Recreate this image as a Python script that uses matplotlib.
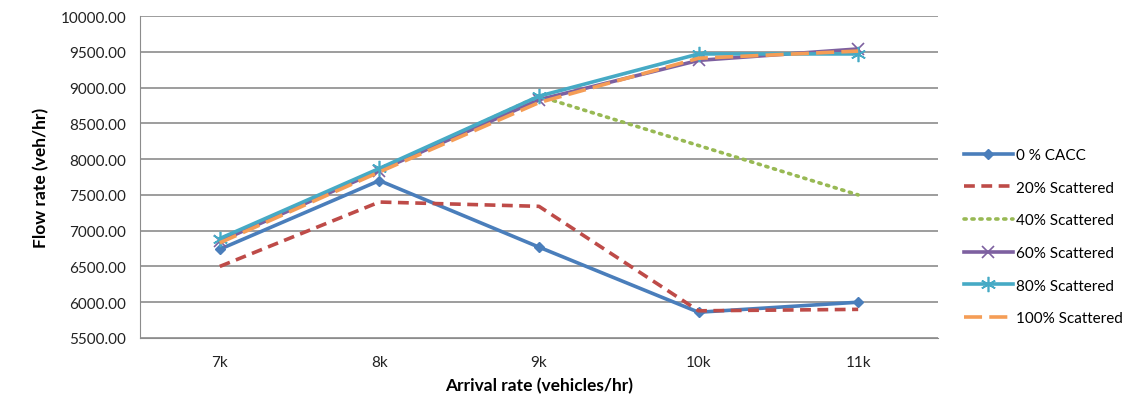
import matplotlib.pyplot as plt
import numpy as np

plt.rcParams['font.family'] = ['Lato', 'DejaVu Sans']

categories = ['7k', '8k', '9k', '10k', '11k']
cacc_0 = [6740, 7700, 6770, 5860, 6000]
scat_20 = [6500, 7400, 7340, 5880, 5900]
scat_40 = [6860, 7850, 8880, 8190, 7500]
scat_60 = [6850, 7840, 8830, 9380, 9540]
scat_80 = [6890, 7870, 8880, 9470, 9470]
scat_100 = [6830, 7820, 8790, 9410, 9510]

x = np.arange(len(categories))

fig = plt.figure(figsize=(11.39, 4.14), dpi=100)
ax = fig.add_axes([0.1229, 0.1812, 0.7006, 0.7777])

lw = 2.6
ax.plot(x, cacc_0, color='#4A7EBB', lw=lw, marker='D', ms=5, label='0 % CACC')
ax.plot(x, scat_20, color='#BE4B48', lw=lw, ls=(0, (3, 1.8)), label='20% Scattered')
ax.plot(x, scat_40, color='#98B954', lw=lw, ls=(0, (0.6, 1.6)), dash_capstyle='round', label='40% Scattered')
ax.plot(x, scat_60, color='#7D60A0', lw=lw, marker='x', ms=9, mew=1.2, label='60% Scattered')
ax.plot(x, scat_80, color='#46AAC5', lw=lw, marker=(6, 2, 0), ms=11, mew=1.2, label='80% Scattered')
ax.plot(x, scat_100, color='#F59D56', lw=lw, ls=(0, (5, 2)), label='100% Scattered')

ax.set_xlim(-0.5, len(categories) - 0.5)
ax.set_ylim(5500, 10000)
ax.set_yticks(np.arange(5500, 10001, 500))
ax.set_yticklabels([f'{v:.2f}' for v in np.arange(5500, 10001, 500)], fontsize=11, color='#222222')
ax.set_xticks(x)
ax.set_xticklabels(categories, fontsize=11, color='#222222')
ax.tick_params(length=0, pad=12)
ax.tick_params(axis='y', pad=10)
ax.yaxis.grid(True, color='#8C8C8C', lw=1.2)
ax.set_axisbelow(True)
for s in ['top', 'right']:
    ax.spines[s].set_visible(False)
ax.spines['left'].set_color('#8C8C8C')
ax.spines['bottom'].set_color('#8C8C8C')

ax.set_xlabel('Arrival rate (vehicles/hr)', fontsize=12.5, fontweight='bold', labelpad=6)
ax.set_ylabel('Flow rate (veh/hr)', fontsize=12.5, fontweight='bold', labelpad=8)

ax.legend(loc='center left', bbox_to_anchor=(1.015, 0.315), frameon=False,
          fontsize=11, handlelength=3.2, handletextpad=0.2, labelspacing=1.22)

plt.savefig('out.png', dpi=100)
